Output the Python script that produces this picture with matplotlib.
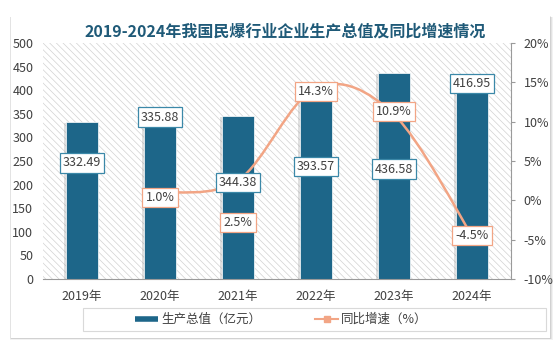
import numpy as np
import matplotlib
matplotlib.use('Agg')
import matplotlib.pyplot as plt
from matplotlib.patches import Rectangle
from matplotlib.path import Path
from matplotlib.patches import PathPatch
from matplotlib.lines import Line2D
import matplotlib.patheffects as pe

plt.rcParams['font.family'] = ['Noto Sans CJK SC', 'DejaVu Sans']
plt.rcParams['hatch.linewidth'] = 0.5

# 数据
years = ['2019年', '2020年', '2021年', '2022年', '2023年', '2024年']
output_value = [332.49, 335.88, 344.38, 393.57, 436.58, 416.95]   # 亿元
growth = [None, 1.0, 2.5, 14.3, 10.9, -4.5]                      # %

# 标签位置（各自轴的数据单位）
bar_label_y = [246, 343, 205, 239, 233, 415]
line_label_y = [None, 0.4, -2.8, 13.8, 11.3, -4.5]

bar_color = '#1d6689'
line_color = '#f2a585'
text_color = '#404040'

fig = plt.figure(figsize=(5.6, 3.5), dpi=100)

# 卡片背景 + 阴影
for i, a in enumerate([0.05, 0.06, 0.08]):
    off = (3 - i) / 560
    fig.patches.append(Rectangle((0.0196 - off * 0.3, 0.0343 - off * 1.2), 0.9625 + off * 1.2, 0.92 + off * 0.6,
                                 transform=fig.transFigure, facecolor='black', alpha=a, lw=0, zorder=0))
fig.patches.append(Rectangle((0.0196, 0.0343), 0.9625, 0.92, transform=fig.transFigure,
                             facecolor='white', lw=0, zorder=1))

ax = fig.add_axes([0.0768, 0.203, 0.8357, 0.674])
ax.set_zorder(2)
ax.patch.set_visible(False)
x = np.arange(len(years))

# 斜线底纹
ax.add_patch(Rectangle((0, 0), 1, 1, transform=ax.transAxes, facecolor='white',
                       edgecolor='#d2d2d2', hatch='\\' * 5, lw=0, zorder=0))

bars = ax.bar(x, output_value, width=0.42, color=bar_color, edgecolor='white', lw=0.5, zorder=2,
              path_effects=[pe.SimplePatchShadow(offset=(-1.2, -0.5), shadow_rgbFace='#999999', alpha=0.3), pe.Normal()])
ax.set_xlim(-0.5, 5.5)
ax.set_ylim(0, 500)
ax.set_yticks(np.arange(0, 501, 50))
ax.set_xticks(x)
ax.set_xticklabels(years)
ax.tick_params(axis='y', length=0, pad=7, labelsize=9, labelcolor=text_color)
ax.tick_params(axis='x', length=0, pad=8, labelsize=9, labelcolor=text_color)
for s in ['top', 'left', 'right']:
    ax.spines[s].set_visible(False)
ax.spines['bottom'].set_color('#9a9a9a')
ax.spines['bottom'].set_linewidth(0.8)

ax2 = ax.twinx()
ax2.set_ylim(-10, 20)
ax2.set_yticks(np.arange(-10, 21, 5))
ax2.set_yticklabels([f'{v}%' for v in range(-10, 21, 5)])
ax2.tick_params(axis='y', length=3, width=0.8, color='#9a9a9a', pad=6, labelsize=9, labelcolor=text_color)
for s in ['top', 'left', 'bottom']:
    ax2.spines[s].set_visible(False)
ax2.spines['right'].set_color('#9a9a9a')
ax2.spines['right'].set_linewidth(0.8)

# 平滑折线（贝塞尔曲线）
pts = [(xi, g) for xi, g in zip(x, growth) if g is not None]
verts = [pts[0]]
codes = [Path.MOVETO]
for i in range(len(pts) - 1):
    p0 = pts[max(i - 1, 0)]
    p1 = pts[i]
    p2 = pts[i + 1]
    p3 = pts[min(i + 2, len(pts) - 1)]
    c1 = (p1[0] + (p2[0] - p0[0]) / 6, p1[1] + (p2[1] - p0[1]) / 6)
    c2 = (p2[0] - (p3[0] - p1[0]) / 6, p2[1] - (p3[1] - p1[1]) / 6)
    verts += [c1, c2, p2]
    codes += [Path.CURVE4] * 3
ax2.add_patch(PathPatch(Path(verts, codes), facecolor='none', edgecolor=line_color, lw=1.8, zorder=3))

# 数据标签
for xi, v, ly in zip(x, output_value, bar_label_y):
    ax2.text(xi, ly, f'{v:.2f}', transform=ax.transData, ha='center', va='center', fontsize=9,
             color=text_color, zorder=6,
             bbox=dict(boxstyle='square,pad=0.25', facecolor='white', edgecolor='#3b88a8', lw=0.9))
for xi, g, ly in zip(x, growth, line_label_y):
    if g is None:
        continue
    ax2.text(xi, ly, f'{g:.1f}%', ha='center', va='center', fontsize=9, color=text_color, zorder=6,
             bbox=dict(boxstyle='square,pad=0.25', facecolor='white', edgecolor=line_color, lw=0.9))

# 标题
fig.text(0.509, 0.909, '2019-2024年我国民爆行业企业生产总值及同比增速情况', ha='center', va='center',
         fontsize=11.5, fontweight='bold', color='#1f5a78')

# 图例
fig.patches.append(Rectangle((0.148, 0.0543), 0.827, 0.0657, transform=fig.transFigure,
                             facecolor='white', edgecolor='#d9d9d9', lw=0.8, zorder=2))
handles = [Line2D([], [], color=bar_color, lw=4, solid_capstyle='butt'),
           Line2D([], [], color=line_color, lw=1.5, marker='s', markersize=5)]
leg = fig.legend(handles, ['生产总值（亿元）', '同比增速（%）'], loc='center', bbox_to_anchor=(0.502, 0.087),
                 ncol=2, frameon=False, fontsize=9, handlelength=1.9, handletextpad=0.2, columnspacing=4.3)
for t in leg.get_texts():
    t.set_color(text_color)

fig.savefig('out.png', dpi=100)
